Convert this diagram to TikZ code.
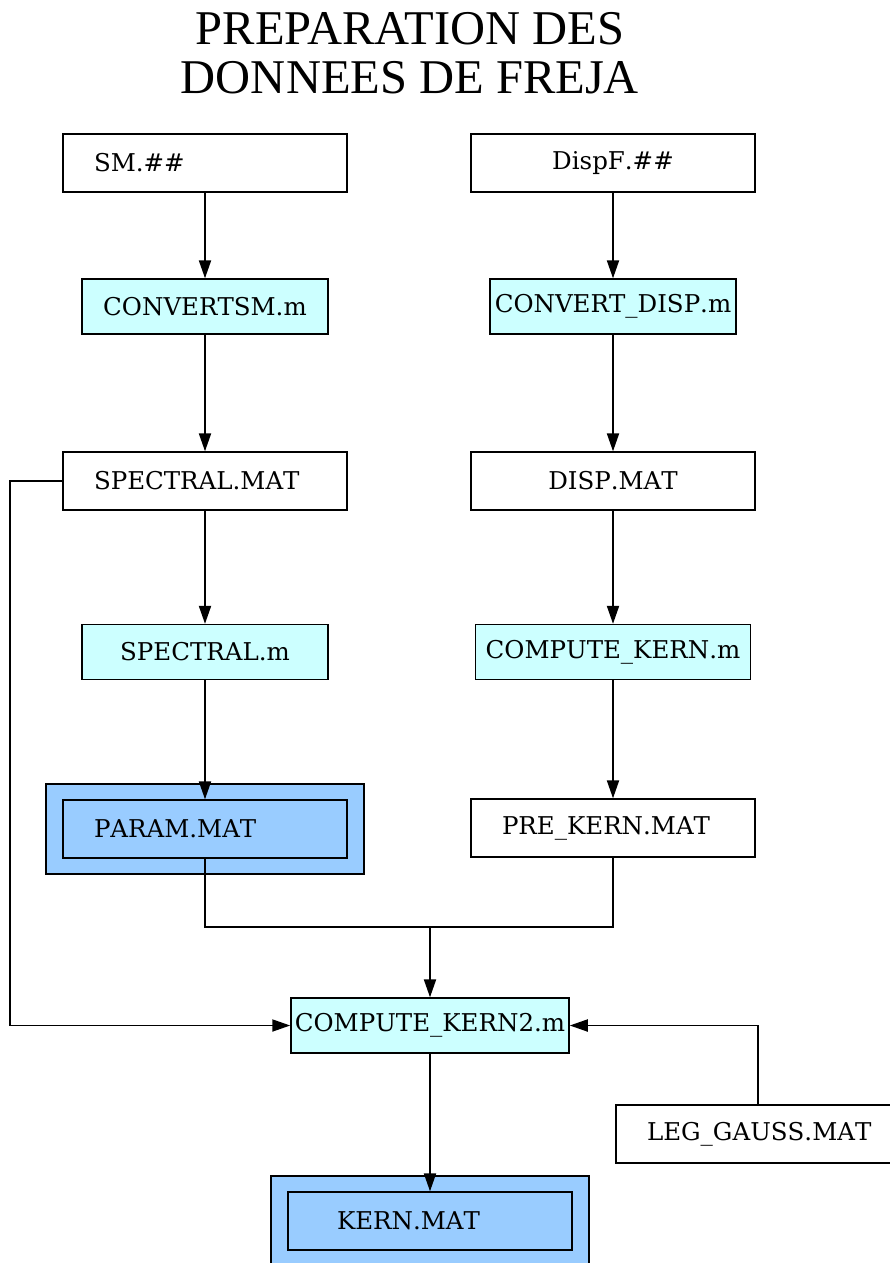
\documentclass[tikz,border=0pt]{standalone}
\usepackage{fontspec}
\setmainfont{DejaVu Serif}[Kerning=Off]
\newfontfamily\titlefont{Liberation Serif}
\usetikzlibrary{positioning, arrows.meta, calc}

\definecolor{scriptcyan}{HTML}{CCFFFF}
\definecolor{resultblue}{HTML}{99CCFF}

\begin{document}
\begin{tikzpicture}[
			x=1pt, y=-1pt,
			node distance=140pt,
			on grid,
			font=\fontsize{24.5}{28}\selectfont,
			datafile/.style={
				draw=black,
				rectangle,
				line width=1.3pt,
				minimum height=58pt,
				text width=222pt,
				inner xsep=31pt,
				align=left,
				fill=white
			},
			datacentre/.style={
				datafile,
				align=center
			},
			mscript/.style={
				draw=black,
				rectangle,
				line width=1.3pt,
				minimum width=246pt,
				minimum height=55pt,
				inner xsep=4pt,
				fill=scriptcyan
			},
			resultframe/.style={
				draw=black,
				rectangle,
				line width=1.3pt,
				minimum width=318pt,
				minimum height=90pt,
				fill=resultblue
			},
			link/.style={
				draw=black,
				line width=1.9pt
			},
			flow/.style={
				link,
				-{Triangle[length=18pt, width=12pt]}
			},
			every edge/.style={
				flow
			}
			]
			\useasboundingbox (0,0) rectangle (890,1263);
			% Title
			\node[font=\titlefont\fontsize{48.5}{49}\selectfont, align=center] (title) at (410,53) {PREPARATION DES\\DONNEES DE FREJA};
			% Left column
			\node[datafile] (sm) at (205,163) {SM.\#\#};
			\node[mscript, below=143.5pt of sm] (convertsm) {CONVERTSM.m};
			\node[datafile, below=174.5pt of convertsm] (spectralmat) {SPECTRAL.MAT};
			\node[mscript, below=171pt of spectralmat] (spectralm) {SPECTRAL.m};
			\node[resultframe, below=177pt of spectralm] (paramframe) {};
			\node[datafile, fill=resultblue] (param) at (paramframe) {PARAM.MAT};
			% Right column
			\node[datacentre] (dispf) at (613,163) {DispF.\#\#};
			\node[mscript, below=143.5pt of dispf] (convertdisp) {CONVERT\_DISP.m};
			\node[datacentre, below=174.5pt of convertdisp] (dispmat) {DISP.MAT};
			\node[mscript, minimum width=275pt, below=171pt of dispmat] (computekern) {COMPUTE\_KERN.m};
			\node[datafile, below=176pt of computekern] (prekern) {PRE\_KERN.MAT};
			% Bottom
			\node[mscript, minimum width=275pt] (kern2) at (430,1025.5) {COMPUTE\_KERN2.m};
			\node[datafile] (leggauss) at (758,1134) {LEG\_GAUSS.MAT};
			\node[resultframe, below=195.5pt of kern2] (kernframe) {};
			\node[datafile, fill=resultblue] (kern) at (kernframe) {\hspace*{18pt}KERN.MAT};
			% Connectors
			\path (sm) edge (convertsm)
				(convertsm) edge (spectralmat)
				(spectralmat) edge (spectralm)
				(spectralm) edge (param)
				(dispf) edge (convertdisp)
				(convertdisp) edge (dispmat)
				(dispmat) edge (computekern)
				(computekern) edge (prekern)
				(kern2) edge (kern);
			\coordinate[above=70pt of kern2.north] (merge);
			\draw[link] (param.south) |- (merge) -| (prekern.south);
			\path (merge) edge (kern2);
			\draw[flow] (spectralmat.west) -- ++(-52pt,0pt) |- (kern2.west);
			\draw[flow] (leggauss.north) |- (kern2.east);
		\end{tikzpicture}
\end{document}
